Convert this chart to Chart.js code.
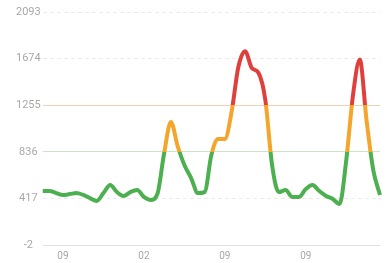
<!DOCTYPE html>
<html>
<head>
<meta charset="utf-8">
<script src="https://cdn.jsdelivr.net/npm/chart.js@4"></script>
<style>
  html, body { margin: 0; padding: 0; background: #fff; overflow: hidden; }
  canvas { display: block; }
</style>
</head>
<body>
<canvas id="lineChart" width="387" height="263"></canvas>
<script>
// x categories, only a few carry a visible label
var labels = ['', '', '', '09', '', '', '', '', '', '', '', '', '', '', '', '02', '', '',
    '', '', '', '', '', '', '', '', '', '09', '', '', '', '', '', '', '', '', '', '', '',
    '09', '', '', '', '', '', '', '', '', '', '', ''];

var values = [483, 483, 465, 448, 456, 465, 448, 420, 394, 465, 537, 474, 439, 474, 492,
    430, 403, 456, 825, 1104, 888, 717, 600, 465, 474, 807, 951, 951, 1194, 1598, 1740,
    1589, 1544, 1302, 717, 474, 492, 430, 430, 501, 537, 483, 439, 412, 367, 762, 1347,
    1665, 1122, 672, 448];

var yTicks = [-2, 417, 836, 1255, 1674, 2093];
var thresholds = [836, 1255];

var green = '#4caf50', orange = '#f4a52b', red = '#e0403c';

function lineColor(context) {
    var chart = context.chart;
    var area = chart.chartArea;
    if (!area) return green;
    var y = chart.scales.y;
    var g = chart.ctx.createLinearGradient(0, area.bottom, 0, area.top);
    var span = area.bottom - area.top;
    var s1 = (area.bottom - y.getPixelForValue(thresholds[0])) / span;
    var s2 = (area.bottom - y.getPixelForValue(thresholds[1])) / span;
    g.addColorStop(0, green);
    g.addColorStop(s1, green);
    g.addColorStop(s1, orange);
    g.addColorStop(s2, orange);
    g.addColorStop(s2, red);
    g.addColorStop(1, red);
    return g;
}

function gridColor(c) {
    var v = c.tick ? c.tick.value : null;
    if (v === thresholds[1]) return '#ecd4b0';
    if (v === thresholds[0]) return '#cbe4c1';
    if (v === yTicks[0]) return '#e0e0e0';
    return '#ebebeb';
}

var ctx = document.getElementById('lineChart').getContext('2d');

var myChart = new Chart(ctx, {
    type: 'line',
    data: {
        labels: labels,
        datasets: [{
            data: values,
            borderColor: lineColor,
            borderWidth: 4,
            pointRadius: 0,
            tension: 0.4,
            cubicInterpolationMode: 'monotone',
            fill: false
        }]
    },
    options: {
        responsive: false,
        animation: false,
        layout: { padding: { left: 14, right: 7, top: 12, bottom: 1 } },
        plugins: { legend: { display: false }, tooltip: { enabled: false } },
        scales: {
            x: {
                grid: { display: false, drawTicks: false },
                border: { display: false },
                afterFit: function (scale) { scale.height = 17; },
                ticks: {
                    autoSkip: false,
                    maxRotation: 0,
                    padding: 5,
                    color: '#a8a8a8',
                    font: { family: 'Roboto', size: 10 }
                }
            },
            y: {
                min: -2,
                max: 2093,
                afterBuildTicks: function (scale) {
                    scale.ticks = yTicks.map(function (v) { return { value: v }; });
                },
                grid: {
                    drawTicks: false,
                    lineWidth: 1,
                    color: gridColor
                },
                border: {
                    display: false,
                    dash: function (c) {
                        var v = c.tick ? c.tick.value : null;
                        if (v === yTicks[0] || v === thresholds[0] || v === thresholds[1]) return [];
                        return [4, 3];
                    }
                },
                ticks: {
                    crossAlign: 'center',
                    padding: 2,
                    color: '#a8a8a8',
                    font: { family: 'Roboto', size: 11 },
                    callback: function (v) { return String(v); }
                }
            }
        }
    }
});
</script>
</body>
</html>
